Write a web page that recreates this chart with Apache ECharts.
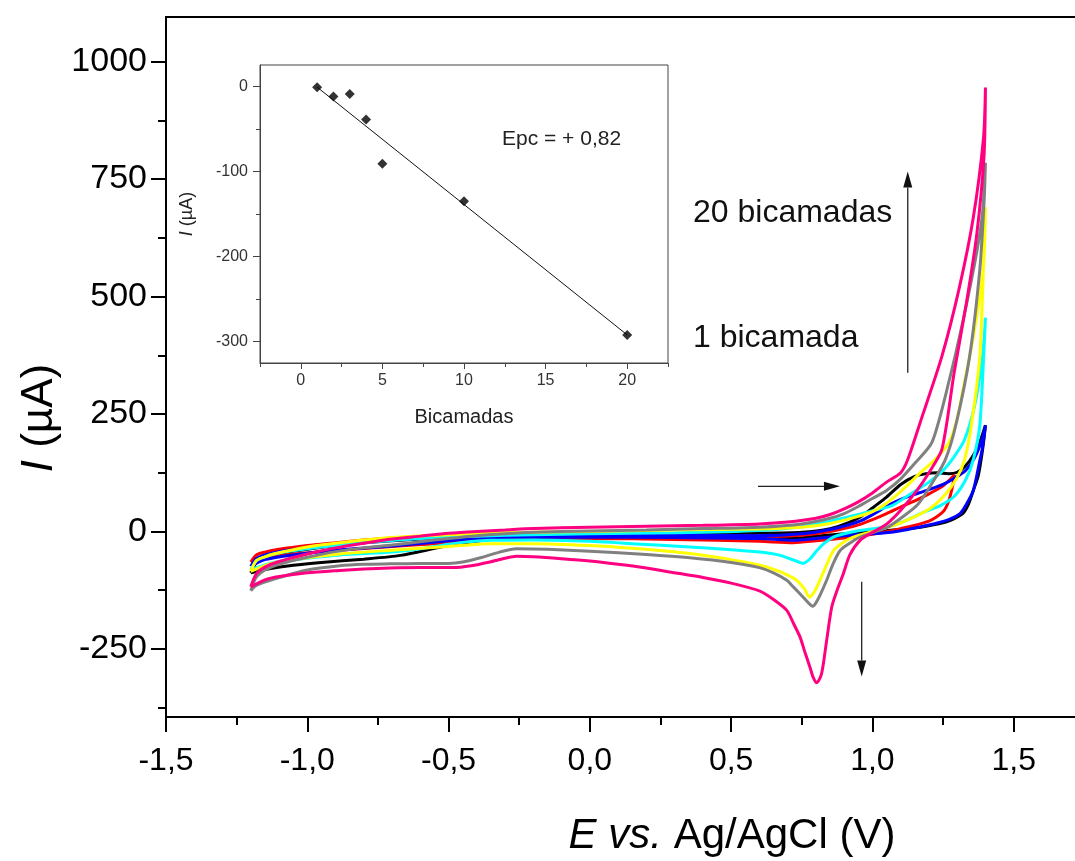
<!DOCTYPE html>
<html>
<head>
<meta charset="utf-8">
<script src="https://cdn.jsdelivr.net/npm/echarts@6/dist/echarts.min.js"></script>
<style>
html,body{margin:0;padding:0;background:#fff;}
#chart{width:1075px;height:861px;}
</style>
</head>
<body>
<div id="chart"></div>
<script>
// ---------------- DATA ----------------
// Cyclic voltammograms: [E (V), I (uA)], forward sweep -1.2 -> 1.4 V then reverse sweep back to -1.2 V
const cv1 = [[-1.2,-88],[-1.18,-66],[-1.15,-56],[-1.1,-47],[-1.0,-38],[-0.9,-30],[-0.8,-24],[-0.6,-16],[-0.4,-11],[-0.2,-8],[0,-6],[0.3,-5],[0.6,-4],[0.75,-2],[0.85,6],[0.92,20],[0.96,32],[1.0,50],[1.05,73],[1.1,100],[1.15,117],[1.19,123],[1.23,125],[1.27,123],[1.3,126],[1.33,140],[1.36,165],[1.38,190],[1.4,226],
  [1.39,175],[1.375,120],[1.357,87],[1.34,58],[1.32,38],[1.29,27],[1.26,20],[1.17,9],[1.05,2],[0.9,-5],[0.8,-10],[0.72,-15],[0.6,-12],[0.3,-10],[0,-11],[-0.2,-13],[-0.354,-17],[-0.5,-30],[-0.67,-51],[-0.8,-59],[-0.95,-66],[-1.05,-72],[-1.14,-80],[-1.2,-88]];
const cv2 = [[-1.2,-65],[-1.18,-50],[-1.15,-44],[-1.1,-38],[-1.0,-30],[-0.9,-24],[-0.8,-18],[-0.6,-11],[-0.4,-7],[-0.2,-6],[0,-7],[0.3,-9],[0.6,-11],[0.75,-8],[0.85,0],[0.95,14],[1.05,38],[1.1,52],[1.15,65],[1.2,80],[1.25,97],[1.29,120],
  [1.285,100],[1.27,65],[1.25,42],[1.2,22],[1.1,6],[1.0,-6],[0.9,-14],[0.8,-20],[0.72,-24],[0.6,-21],[0.3,-17],[0,-15],[-0.35,-17],[-0.55,-26],[-0.75,-34],[-0.95,-43],[-1.1,-52],[-1.2,-65]];
const cv3 = [[-1.2,-74],[-1.18,-58],[-1.15,-50],[-1.1,-43],[-1.0,-35],[-0.9,-28],[-0.8,-22],[-0.6,-15],[-0.4,-11],[-0.2,-9],[0,-8],[0.3,-8],[0.6,-9],[0.75,-5],[0.85,4],[0.96,23],[1.07,60],[1.13,75],[1.19,87],[1.25,100],[1.29,113],[1.33,130],[1.36,155],[1.387,194],[1.4,226],
  [1.39,180],[1.38,151],[1.357,87],[1.33,55],[1.31,38],[1.27,25],[1.216,16],[1.074,-1],[0.9,-9],[0.8,-15],[0.72,-19],[0.6,-15],[0.3,-13],[0,-12],[-0.35,-13],[-0.5,-20],[-0.7,-31],[-0.9,-40],[-1.05,-50],[-1.15,-60],[-1.2,-74]];
const cv4 = [[-1.2,-82],[-1.18,-62],[-1.15,-54],[-1.1,-46],[-1.0,-37],[-0.9,-30],[-0.8,-24],[-0.6,-15],[-0.4,-10],[-0.2,-7],[0,-5],[0.3,-3],[0.6,2],[0.75,10],[0.85,22],[0.95,36],[1.02,47],[1.07,55],[1.13,78],[1.2,105],[1.25,130],[1.29,160],[1.325,194],[1.36,263],[1.39,373],[1.4,455],
  [1.395,390],[1.38,226],[1.357,153],[1.33,110],[1.29,75],[1.24,55],[1.19,43],[1.074,13],[0.956,2],[0.9,-5],[0.862,-12],[0.83,-25],[0.803,-41],[0.78,-58],[0.755,-68],[0.73,-63],[0.673,-51],[0.602,-44],[0.5,-39],[0.354,-33],[0.15,-26],[0,-21],[-0.2,-18],[-0.354,-19],[-0.5,-27],[-0.6,-37],[-0.7,-44],[-0.885,-50],[-1.0,-57],[-1.12,-66],[-1.2,-82]];
const cv5 = [[-1.2,-85],[-1.18,-62],[-1.15,-54],[-1.12,-48],[-1.0,-33],[-0.885,-24],[-0.7,-13],[-0.5,-7],[-0.3,-3],[0,0],[0.3,3],[0.6,5],[0.75,9],[0.85,17],[0.95,32],[1.0,42],[1.05,60],[1.1,85],[1.17,125],[1.22,152],[1.272,190],[1.3,240],[1.32,300],[1.356,410],[1.392,557],[1.4,690],
  [1.395,600],[1.38,373],[1.35,226],[1.326,153],[1.3,115],[1.26,80],[1.2,47],[1.1,18],[1.039,6],[0.932,-12],[0.895,-24],[0.862,-41],[0.835,-75],[0.814,-104],[0.795,-128],[0.777,-140],[0.76,-123],[0.732,-104],[0.7,-93],[0.661,-83],[0.602,-72],[0.5,-60],[0.354,-47],[0.15,-36],[0,-30],[-0.2,-26],[-0.354,-26],[-0.5,-32],[-0.7,-40],[-0.885,-48],[-1.0,-56],[-1.12,-67],[-1.2,-85]];
const cv10 = [[-1.2,-126],[-1.18,-97],[-1.15,-82],[-1.1,-70],[-1.0,-55],[-0.9,-43],[-0.8,-35],[-0.7,-29],[-0.6,-22],[-0.5,-15],[-0.4,-9],[-0.3,-5],[-0.2,-2],[0,1],[0.2,3],[0.4,6],[0.6,9],[0.75,16],[0.85,28],[0.9,38],[0.95,53],[1.0,70],[1.05,87],[1.1,112],[1.15,145],[1.211,190],[1.272,322],[1.32,447],[1.369,594],[1.39,680],[1.4,785],
  [1.395,700],[1.38,557],[1.344,373],[1.295,226],[1.258,153],[1.2,92],[1.157,55],[1.1,28],[1.05,8],[0.956,-12],[0.92,-25],[0.885,-41],[0.86,-70],[0.838,-104],[0.815,-135],[0.8,-152],[0.789,-159],[0.775,-153],[0.755,-140],[0.72,-118],[0.697,-104],[0.65,-88],[0.6,-77],[0.5,-66],[0.354,-56],[0.2,-49],[0,-42],[-0.15,-38],[-0.26,-37],[-0.32,-44],[-0.38,-55],[-0.45,-65],[-0.5,-68],[-0.6,-68],[-0.708,-69],[-0.8,-70],[-0.885,-73],[-1.0,-82],[-1.12,-102],[-1.18,-115],[-1.2,-126]];
const cv20 = [[-1.2,-118],[-1.18,-90],[-1.15,-76],[-1.1,-64],[-1.0,-48],[-0.9,-35],[-0.8,-25],[-0.7,-16],[-0.6,-10],[-0.5,-4],[-0.4,0],[-0.3,3],[-0.2,6],[0,9],[0.2,11],[0.4,13],[0.6,16],[0.7,20],[0.8,28],[0.85,36],[0.9,48],[0.95,63],[1.0,82],[1.05,105],[1.1,125],[1.125,153],[1.174,241],[1.246,373],[1.308,520],[1.357,668],[1.393,837],[1.4,945],
  [1.395,800],[1.369,631],[1.332,484],[1.289,337],[1.246,175],[1.2,125],[1.157,87],[1.1,45],[1.051,16],[1.0,-2],[0.956,-19],[0.92,-50],[0.897,-90],[0.875,-125],[0.856,-161],[0.838,-232],[0.82,-303],[0.803,-322],[0.79,-310],[0.779,-289],[0.76,-255],[0.744,-225],[0.72,-195],[0.697,-168],[0.65,-145],[0.602,-127],[0.5,-110],[0.4,-98],[0.3,-88],[0.2,-78],[0.1,-70],[0,-63],[-0.1,-58],[-0.2,-54],[-0.26,-53],[-0.3,-57],[-0.354,-65],[-0.42,-73],[-0.485,-77],[-0.6,-77],[-0.708,-78],[-0.8,-80],[-0.885,-83],[-1.0,-88],[-1.1,-96],[-1.15,-103],[-1.2,-118]];

const curveNames = ['1 bicamada','2 bicamadas','3 bicamadas','4 bicamadas','5 bicamadas','10 bicamadas','20 bicamadas'];
const curves = [cv1, cv2, cv3, cv4, cv5, cv10, cv20];

// Arrows (data coordinates): [E start, I start, E end(tip), I end(tip)]
const arrows = [[0.595, 96, 0.885, 96], [0.962, -107, 0.962, -309], [1.125, 338, 1.125, 766]];

// Inset: Epc peak current vs number of bilayers
const bicamadas = [1, 2, 3, 4, 5, 10, 20];
const epcCurrent = [-1, -12, -9, -39, -91, -135, -292];
const fitBicamadas = [1, 20];
const fitCurrent = [-1, -292];

// Tick values
const mainYTicks = [-250, 0, 250, 500, 750, 1000];
const mainYMinor = [-375, -125, 125, 375, 625, 875];
const insetXTicks = [0, 5, 10, 15, 20];
const insetXMinor = [-2.5, 2.5, 7.5, 12.5, 17.5, 22.5];
const insetYTicks = [-300, -200, -100, 0];
const insetYMinor = [-250, -150, -50];

// ---------------- STYLE ----------------
const FONT = '"Liberation Sans", Arial, sans-serif';
const curveColors = ['#000000', '#ff0000', '#0000ff', '#00ffff', '#ffff00', '#808080', '#ff0080'];
const comma = v => (Math.round(v * 10) / 10).toFixed(1).replace('.', ',');
const plain = v => String(v);

const chart = echarts.init(document.getElementById('chart'), null, {renderer: 'canvas'});

const series = curves.map((d, i) => ({
  name: curveNames[i], type: 'line', xAxisIndex: 0, yAxisIndex: 0,
  data: d, showSymbol: false, symbol: 'none', smooth: 0.25,
  lineStyle: {color: curveColors[i], width: 3}, itemStyle: {color: curveColors[i]},
  z: 2 + i, silent: true
}));

series.push({
  type: 'custom', xAxisIndex: 0, yAxisIndex: 0, data: arrows, z: 9, silent: true,
  encode: {x: [0, 2], y: [1, 3]},
  renderItem: function (params, api) {
    const p1 = api.coord([api.value(0), api.value(1)]);
    const p2 = api.coord([api.value(2), api.value(3)]);
    const dx = p2[0] - p1[0], dy = p2[1] - p1[1];
    const len = Math.sqrt(dx * dx + dy * dy);
    const ux = dx / len, uy = dy / len;
    const hl = 16, hw = 4.5;
    const bx = p2[0] - ux * hl, by = p2[1] - uy * hl;
    return {
      type: 'group',
      children: [
        {type: 'line', shape: {x1: p1[0], y1: p1[1], x2: bx, y2: by}, style: {stroke: '#222', lineWidth: 1.3}},
        {type: 'polygon', shape: {points: [[p2[0], p2[1]], [bx - uy * hw, by + ux * hw], [bx + uy * hw, by - ux * hw]]}, style: {fill: '#111'}}
      ]
    };
  }
});

series.push({
  type: 'line', xAxisIndex: 1, yAxisIndex: 2,
  data: fitBicamadas.map((x, i) => [x, fitCurrent[i]]),
  showSymbol: false, symbol: 'none', lineStyle: {color: '#111', width: 1}, z: 15, silent: true
});
series.push({
  type: 'scatter', xAxisIndex: 1, yAxisIndex: 2,
  data: bicamadas.map((x, i) => [x, epcCurrent[i]]),
  symbol: 'diamond', symbolSize: 10, itemStyle: {color: '#000'}, z: 16, silent: true
});

const option = {
  animation: false,
  backgroundColor: '#fff',
  grid: [
    {left: 166, top: 17, right: -80, bottom: 144, show: true, borderColor: '#000', borderWidth: 2,
      backgroundColor: 'transparent', containLabel: false, outerBoundsMode: 'none'},
    {left: 260, top: 65, right: 407, bottom: 498, show: true, borderColor: '#444', borderWidth: 1,
      backgroundColor: '#fff', z: 10, containLabel: false, outerBoundsMode: 'none'}
  ],
  xAxis: [
    {gridIndex: 0, type: 'value', min: -1.5, max: 2.0, interval: 0.5,
      axisLine: {onZero: false, lineStyle: {color: '#000', width: 2}},
      axisTick: {length: 15, lineStyle: {color: '#000', width: 2}},
      minorTick: {show: true, splitNumber: 2, length: 8, lineStyle: {color: '#000', width: 2}},
      axisLabel: {margin: 28, fontSize: 32, color: '#000', fontFamily: FONT, formatter: comma},
      splitLine: {show: false}, minorSplitLine: {show: false}},
    {gridIndex: 1, type: 'value', min: -2.5, max: 22.5, z: 11,
      name: 'Bicamadas', nameLocation: 'middle', nameGap: 44,
      nameTextStyle: {fontSize: 20, color: '#222', fontFamily: FONT},
      axisLine: {onZero: false, lineStyle: {color: '#444', width: 1}},
      axisTick: {customValues: insetXTicks, length: 6, lineStyle: {color: '#444', width: 1}},
      axisLabel: {customValues: insetXTicks, margin: 10, fontSize: 16, color: '#333', fontFamily: FONT, formatter: plain},
      splitLine: {show: false}},
    {gridIndex: 1, type: 'value', min: -2.5, max: 22.5, position: 'bottom', z: 11,
      axisLine: {show: false, onZero: false},
      axisTick: {customValues: insetXMinor, length: 4, lineStyle: {color: '#444', width: 1}},
      axisLabel: {show: false}, splitLine: {show: false}}
  ],
  yAxis: [
    {gridIndex: 0, type: 'value', min: -395, max: 1095,
      axisLine: {show: true, onZero: false, lineStyle: {color: '#000', width: 2}},
      axisTick: {show: true, customValues: mainYTicks, length: 15, lineStyle: {color: '#000', width: 2}},
      axisLabel: {customValues: mainYTicks, margin: 19, fontSize: 34, color: '#000', fontFamily: FONT, formatter: plain},
      splitLine: {show: false}},
    {gridIndex: 0, type: 'value', min: -395, max: 1095, position: 'left',
      axisLine: {show: false, onZero: false},
      axisTick: {show: true, customValues: mainYMinor, length: 8, lineStyle: {color: '#000', width: 2}},
      axisLabel: {show: false}, splitLine: {show: false}},
    {gridIndex: 1, type: 'value', min: -325, max: 25, z: 11,
      name: '{i|I} (µA)', nameLocation: 'middle', nameGap: 64, nameRotate: 90,
      nameTextStyle: {fontSize: 18, color: '#222', fontFamily: FONT,
        rich: {i: {fontStyle: 'italic', fontSize: 18, color: '#222', fontFamily: FONT}}},
      axisLine: {show: true, onZero: false, lineStyle: {color: '#444', width: 1}},
      axisTick: {show: true, customValues: insetYTicks, length: 7, lineStyle: {color: '#444', width: 1}},
      axisLabel: {customValues: insetYTicks, margin: 12, fontSize: 16, color: '#333', fontFamily: FONT, formatter: plain},
      splitLine: {show: false}},
    {gridIndex: 1, type: 'value', min: -325, max: 25, position: 'left', z: 11,
      axisLine: {show: false, onZero: false},
      axisTick: {show: true, customValues: insetYMinor, length: 4, lineStyle: {color: '#444', width: 1}},
      axisLabel: {show: false}, splitLine: {show: false}}
  ],
  graphic: [
    {type: 'text', x: 40, y: 418, rotation: Math.PI / 2, z: 30,
      style: {text: '{i|I} (µA)', fontSize: 44, fontFamily: FONT, fill: '#000', align: 'center', verticalAlign: 'middle',
        rich: {i: {fontStyle: 'italic', fontSize: 44, fontFamily: FONT, fill: '#000'}}}},
    {type: 'text', x: 732, y: 836, z: 30,
      style: {text: '{i|E vs.} Ag/AgCl (V)', fontSize: 42, fontFamily: FONT, fill: '#000', align: 'center', verticalAlign: 'middle',
        rich: {i: {fontStyle: 'italic', fontSize: 42, fontFamily: FONT, fill: '#000'}}}},
    {type: 'text', x: 693, y: 213, z: 30,
      style: {text: '20 bicamadas', fontSize: 32, fontFamily: FONT, fill: '#111', align: 'left', verticalAlign: 'middle'}},
    {type: 'text', x: 693, y: 338, z: 30,
      style: {text: '1 bicamada', fontSize: 32, fontFamily: FONT, fill: '#111', align: 'left', verticalAlign: 'middle'}},
    {type: 'text', x: 502, y: 139, z: 30,
      style: {text: 'Epc = + 0,82', fontSize: 21, fontFamily: FONT, fill: '#222', align: 'left', verticalAlign: 'middle'}}
  ],
  series: series
};

chart.setOption(option);
</script>
</body>
</html>
